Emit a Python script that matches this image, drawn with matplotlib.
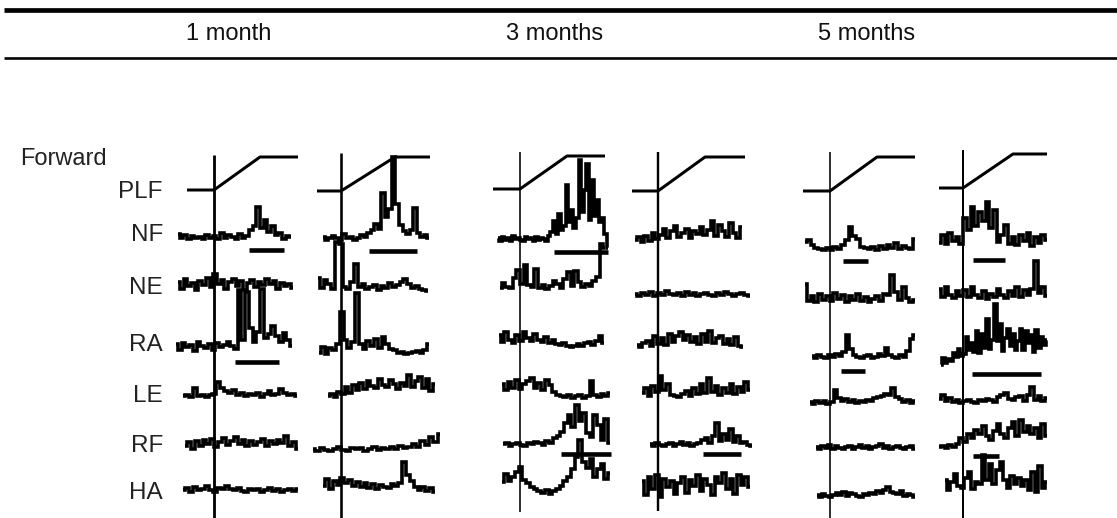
import matplotlib
matplotlib.use("Agg")
import matplotlib.pyplot as plt
import numpy as np

plt.rcParams['font.family'] = ['Liberation Sans', 'DejaVu Sans']

# ---- data ----------------------------------------------------------------
months = ["1 month", "3 months", "5 months"]
muscles = ["NF", "NE", "RA", "LE", "RF", "HA"]
condition = "Forward"

# platform displacement (PLF): flat, ramp, plateau (relative to onset, px)
plf_before = [27, 24, 27, 26, 27, 24]
plf_rise = [46, 54, 47, 47, 47, 50]
plf_after = [84, 89, 85, 87, 85, 84]
plf_amp = [33, 34, 33, 34, 34, 34]

# EMG envelopes, one list per panel (amplitude above baseline)
nf_traces = [
    [4,0,3,-1,2,0,1,-1,3,0,2,-1,5,0,3,1,-1,4,0,2,8,12,31,10,18,6,12,3,5,-1,2,1],
    [2,-1,1,3,1,-1,5,1,2,-1,1,4,2,6,9,15,10,46,22,30,82,35,14,8,5,9,31,6,2,4,1],
    [2,-1,3,0,2,-1,4,1,2,0,-1,3,1,2,-1,3,0,2,1,-1,4,
     8,19,6,26,10,14,55,18,30,12,22,80,28,50,76,20,60,24,40,18,22,6,-8],
    [2,5,0,6,1,9,3,7,13,4,11,16,5,9,13,4,11,8,15,7,12,21,6,17,11,5,19,9,4,15],
    [7,9,4,1,0,-1,1,-1,2,0,4,9,22,13,10,2,1,0,2,-1,3,0,4,1,6,0,3,1,0,10],
    [5,13,4,15,7,11,4,30,18,41,22,36,27,46,20,38,6,13,23,4,11,3,13,7,15,2,11,5,13,8],
]
ne_traces = [
    [6,-1,9,2,5,-2,7,3,10,1,14,4,8,-1,6,9,2,7,-2,5,8,1,6,3,9,4,7,-1,5,2,4,0],
    [12,2,10,6,1,48,46,3,1,8,26,3,6,1,3,5,0,4,2,7,3,5,8,11,6,2,4,1,0,-1],
    [2,7,3,2,12,20,6,25,5,3,21,2,5,1,4,9,6,2,11,18,4,19,8,3,6,4,9,13,46,42],
    [1,-1,2,0,3,-1,2,0,4,1,0,2,-1,3,0,2,-1,1,2,0,-1,2,0,3,1,-1,1,2,0,-1],
    [19,2,7,1,9,3,7,2,10,4,8,1,7,3,9,2,6,1,4,7,2,9,8,28,11,3,16,5,1,3],
    [11,3,13,5,2,9,4,10,3,13,5,2,9,1,6,3,11,5,2,9,4,13,3,10,5,11,39,7,13,4],
]
ra_traces = [
    [4,-2,5,1,3,-3,6,2,0,4,-2,5,1,3,6,2,-1,58,8,56,20,6,16,59,10,14,22,12,6,15,8,2],
    [-1,5,-2,4,2,8,40,12,4,10,59,8,3,11,6,13,4,15,8,3,2,-1,0,-2,-1,0,1,-1,2,8],
    [10,3,13,5,2,10,4,13,7,4,11,5,3,8,2,5,1,0,2,-1,-2,-1,1,-1,2,3,0,4,9,2],
    [2,0,4,6,1,11,3,9,2,13,5,11,15,7,12,5,10,3,13,5,16,4,9,11,3,8,2,10,1,0],
    [1,-1,2,0,-1,2,0,3,1,5,22,8,2,0,-1,1,2,-1,0,3,1,9,2,0,-1,2,0,6,18,22],
    [-5,2,-3,1,-1,7,3,11,4,6,23,10,17,8,29,7,26,12,41,11,20,56,19,36,9,22,31,
     14,26,10,19,31,10,29,17,25,8,30,12,23,15,20],
]
le_traces = [
    [0,1,-1,8,0,1,-1,1,2,14,8,5,3,6,1,3,0,2,1,3,-1,2,5,1,2,7,3,1,2,0],
    [0,2,-1,4,2,9,3,11,6,13,7,15,10,8,17,11,9,16,12,7,13,10,21,9,15,19,8,17,5,12],
    [13,7,15,9,17,8,13,16,19,9,14,7,17,12,5,2,1,0,2,-1,1,2,-1,1,16,2,0,3,1,4],
    [4,9,1,11,5,21,7,13,2,1,0,3,6,1,9,3,13,4,19,5,11,2,9,4,13,3,10,5,15,7],
    [1,-1,2,0,2,-1,1,13,5,2,4,1,3,0,2,1,3,2,5,6,7,9,8,15,6,4,1,3,0,2],
    [3,7,1,4,0,2,-1,1,2,0,-1,2,1,3,2,0,5,7,9,3,2,5,6,1,7,15,2,6,1,4],
]
rf_traces = [
    [2,6,-1,7,2,8,4,9,1,6,10,3,7,11,4,8,2,7,3,6,9,2,7,4,8,5,12,2,6,-1],
    [1,-1,2,0,-1,1,3,0,-1,2,1,2,-1,1,3,0,2,1,3,1,4,2,3,6,3,9,5,13,8,16],
    [1,2,-1,1,2,0,-1,2,1,3,2,0,4,2,7,9,13,22,30,18,40,24,32,12,8,30,20,5,26,2],
    [1,-1,2,0,-1,1,2,-1,1,3,0,2,-1,1,2,5,7,2,9,22,4,11,5,16,3,9,2,3,0,-1],
    [1,-1,2,0,3,-1,2,0,-1,1,2,-1,1,3,0,2,-1,1,2,4,0,2,-1,1,2,0,-1,1,2,-1],
    [0,1,-1,2,0,3,9,5,13,9,17,13,21,11,7,16,23,13,9,19,25,11,27,15,21,13,19,9,23,11],
]
ha_traces = [
    [1,3,-1,4,1,2,5,1,-1,3,2,5,2,1,3,0,-1,2,1,2,-1,1,3,0,2,-1,1,2,0,2],
    [6,13,3,11,7,14,9,12,6,10,5,9,4,8,3,7,5,4,8,6,9,30,17,11,5,2,5,1,4,0],
    [6,14,7,11,16,21,8,5,1,-1,-3,-5,-2,-6,-3,-1,2,7,11,19,31,48,26,20,29,11,19,24,9,15],
    [9,-5,13,1,15,-7,11,3,9,-4,7,13,-3,10,4,15,-1,11,5,-5,13,7,17,1,11,-4,15,5,13,3],
    [1,-1,2,0,-1,1,3,1,4,0,3,2,0,-1,2,1,3,2,5,3,6,9,4,3,2,5,0,2,1,-1],
    [13,3,11,19,7,5,15,21,4,11,9,38,13,29,9,23,31,13,5,17,9,15,7,13,3,21,1,27,5,11],
]

# burst windows: (panel, muscle, start, end) relative to onset
bursts = [
    (0, "NF", 35, 70), (1, "NF", 28, 76), (2, "NF", 34, 88),
    (4, "NF", 13, 38), (5, "NF", 10, 42),
    (0, "RA", 21, 65), (4, "RA", 11, 35), (5, "RA", 9, 78),
    (2, "RF", 41, 91), (3, "RF", 45, 83), (5, "RF", 10, 36),
]

# ---- layout (pixels) -----------------------------------------------------
W, H = 1117, 518
onset_x = [214, 341, 520, 658, 830, 963]
onset_top = [155, 153, 152, 152, 152, 150]
onset_bottom = [518, 518, 512, 511, 518, 518]
onset_lw = [2.8, 2.6, 1.6, 2.4, 1.6, 2.0]
plf_base = [190, 191, 189, 191, 191, 188]

baselines = {
    "NF": [238, 239, 240, 242, 249, 248],
    "NE": [288, 290, 290, 295, 303, 300],
    "RA": [348, 352, 345, 347, 357, 360],
    "LE": [396, 396, 397, 397, 403, 402],
    "RF": [448, 450, 445, 445, 448, 447],
    "HA": [491, 492, 488, 490, 496, 493],
}
spans = {
    "NF": [(178, 291), (323, 429), (498, 608), (635, 742), (805, 915), (939, 1047)],
    "NE": [(178, 293), (318, 428), (500, 605), (635, 750), (805, 915), (939, 1047)],
    "RA": [(176, 292), (319, 429), (499, 604), (637, 743), (812, 915), (941, 1047)],
    "LE": [(183, 297), (328, 435), (502, 610), (642, 750), (810, 915), (939, 1047)],
    "RF": [(185, 298), (313, 440), (503, 610), (650, 752), (816, 915), (939, 1047)],
    "HA": [(183, 298), (323, 435), (502, 610), (642, 750), (817, 915), (945, 1047)],
}
bar_gap = {"NF": 12, "RA": 14, "RF": 9}
label_baseline = {"PLF": 198, "NF": 241, "NE": 294, "RA": 351, "LE": 402, "RF": 452, "HA": 499}
month_x = [229, 555, 867]

traces = {"NF": nf_traces, "NE": ne_traces, "RA": ra_traces,
          "LE": le_traces, "RF": rf_traces, "HA": ha_traces}

px = 72 / 100  # points per pixel at dpi 100

fig = plt.figure(figsize=(W / 100, H / 100), dpi=100)
ax = fig.add_axes([0, 0, 1, 1])
ax.set_xlim(0, W)
ax.set_ylim(H, 0)
ax.axis("off")

# table header rules and titles
ax.plot([4, W], [9.7, 9.7], color="k", lw=4.7 * px, solid_capstyle="butt")
ax.plot([4, W], [58, 58], color="k", lw=2.6 * px, solid_capstyle="butt")
for x, t in zip(month_x, months):
    ax.text(x, 40.5, t, ha="center", va="baseline", fontsize=17, color="#111111")

# row labels
ax.text(20, 165, condition, ha="left", va="baseline", fontsize=17, color="#222222")
for name, yb in label_baseline.items():
    ax.text(163, yb, name, ha="right", va="baseline", fontsize=17.5, color="#222222")

for p in range(6):
    x0 = onset_x[p]
    # onset line
    ax.plot([x0, x0], [onset_top[p], onset_bottom[p]], color="k",
            lw=onset_lw[p] * px, solid_capstyle="butt")
    # platform displacement
    t = np.array([-plf_before[p], 0, plf_rise[p], plf_after[p]]) + x0
    v = plf_base[p] - np.array([0, 0, plf_amp[p], plf_amp[p]])
    ax.plot(t, v, color="k", lw=3.0 * px, solid_capstyle="butt")
    # EMG traces
    for m in muscles:
        vals = np.array(traces[m][p], dtype=float)
        a, b = spans[m][p]
        xs = np.linspace(a, b, len(vals))
        ax.plot(xs, baselines[m][p] - vals, color="k", lw=3.6 * px,
                drawstyle="steps-mid", solid_joinstyle="miter",
                solid_capstyle="butt")

# burst bars
for p, m, s, e in bursts:
    y = baselines[m][p] + bar_gap[m]
    ax.plot([onset_x[p] + s, onset_x[p] + e], [y, y], color="k",
            lw=4.6 * px, solid_capstyle="butt")

fig.savefig("out.png", dpi=100)
